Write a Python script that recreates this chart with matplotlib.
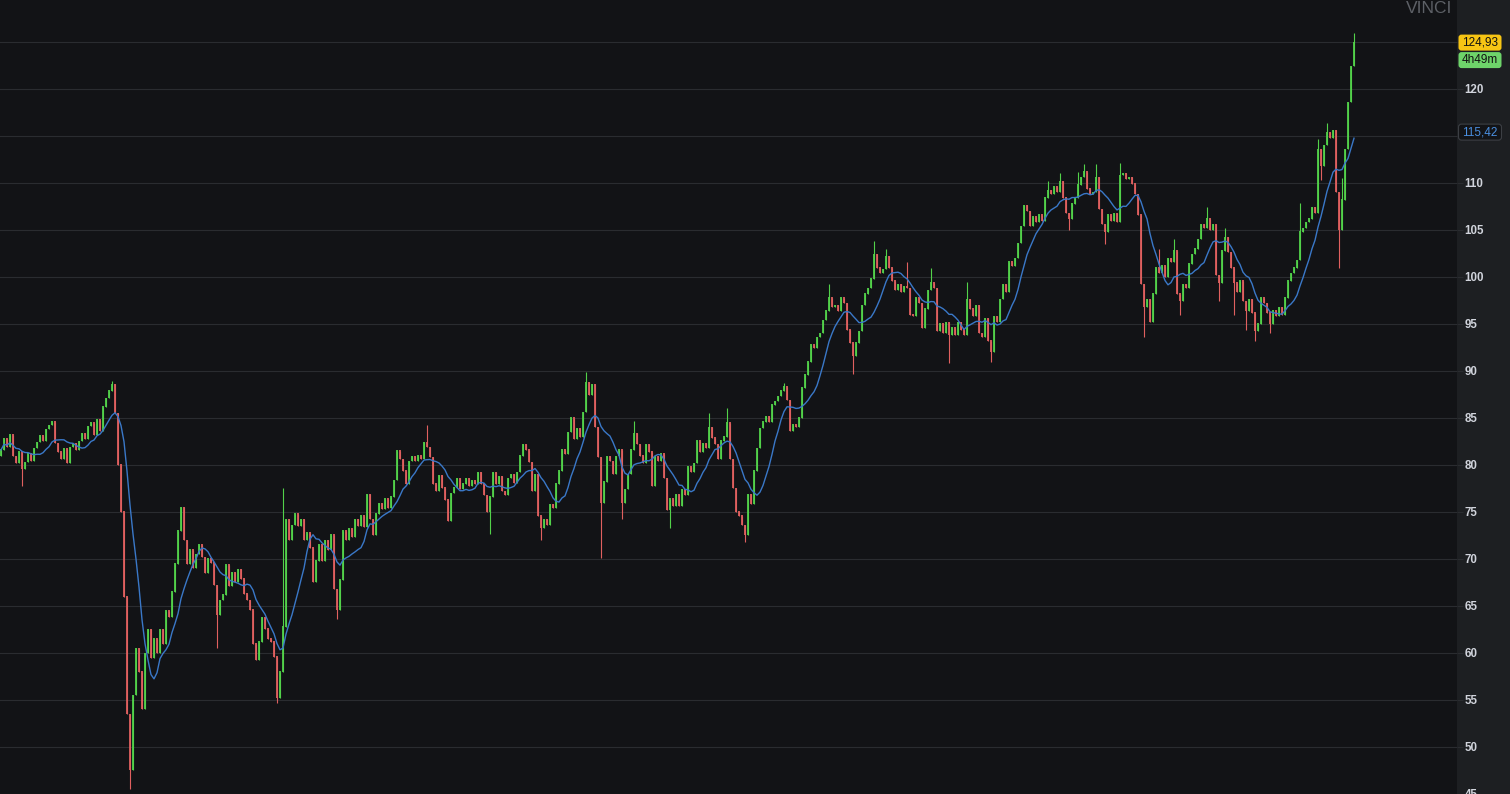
import numpy as np
import pandas as pd
import matplotlib
matplotlib.use("Agg")
import matplotlib.pyplot as plt
from matplotlib.patches import FancyBboxPatch
from matplotlib.transforms import IdentityTransform

# ---------------- data ----------------
title = "VINCI"
first_open = 81.0
closes = [
    81.6, 82.8, 81.9, 83.2, 80.9, 80.2, 81.4, 79.6, 80.3, 81.2,
    80.4, 81.8, 82.4, 83.1, 82.6, 83.8, 84.2, 84.6, 82.3, 81.4,
    80.6, 81.7, 80.2, 81.9, 82.3, 81.6, 82.5, 83.4, 82.8, 84.1,
    84.5, 83.2, 84.8, 83.6, 86.2, 87.1, 87.9, 88.6, 85.5, 80.0,
    75.0, 66.0, 53.5, 47.5, 55.5, 60.5, 58.0, 54.0, 60.0, 62.5,
    59.5, 61.5, 60.0, 62.5, 61.0, 64.5, 63.8, 66.5, 69.5, 73.0,
    75.5, 72.0, 69.5, 71.0, 69.0, 70.5, 71.5, 70.2, 68.5, 70.0,
    69.6, 67.2, 64.0, 65.6, 66.2, 69.4, 67.1, 68.6, 67.6, 68.9,
    67.9, 66.3, 65.6, 64.6, 61.0, 59.3, 61.2, 63.8, 62.6, 61.5,
    61.2, 59.6, 55.2, 58.0, 62.8, 74.2, 72.0, 73.6, 74.8, 73.5,
    74.2, 72.0, 72.8, 71.2, 67.5, 69.8, 71.5, 69.8, 72.0, 71.0,
    72.6, 66.8, 64.6, 67.8, 73.0, 72.0, 73.2, 72.3, 74.2, 73.5,
    74.6, 73.4, 76.9, 74.2, 72.5, 74.8, 75.9, 75.3, 76.4, 75.4,
    76.6, 78.4, 81.5, 80.6, 79.4, 78.0, 80.4, 80.9, 80.4, 81.0,
    80.6, 82.4, 81.9, 80.8, 78.0, 77.2, 78.9, 77.6, 76.3, 74.0,
    77.0, 77.6, 78.6, 77.4, 78.0, 78.6, 77.8, 78.3, 78.0, 79.2,
    78.0, 76.8, 75.0, 76.6, 79.2, 78.0, 78.8, 77.2, 76.8, 78.6,
    79.0, 78.1, 79.2, 81.0, 82.2, 81.6, 80.3, 77.2, 79.0, 74.6,
    73.3, 74.2, 73.6, 75.8, 75.4, 78.0, 79.4, 81.6, 81.2, 83.5,
    85.0, 82.8, 83.9, 83.0, 85.6, 88.8, 87.4, 88.6, 84.0, 80.8,
    76.0, 78.2, 80.9, 80.4, 79.0, 80.9, 81.6, 76.0, 77.4, 79.0,
    81.6, 83.4, 82.2, 81.0, 80.2, 82.2, 81.4, 77.8, 80.9, 80.4,
    81.2, 78.6, 75.2, 76.4, 75.6, 76.9, 75.6, 77.4, 76.8, 79.8,
    79.2, 80.2, 82.6, 81.4, 82.3, 81.8, 84.0, 82.9, 82.2, 80.6,
    82.6, 83.0, 84.5, 80.6, 77.5, 75.0, 74.6, 73.6, 72.6, 76.9,
    75.8, 79.4, 81.8, 83.9, 84.6, 85.2, 84.6, 86.4, 86.8, 87.3,
    87.9, 88.3, 86.9, 83.6, 84.3, 84.0, 85.0, 88.2, 89.6, 91.0,
    92.8, 92.4, 93.6, 94.0, 95.4, 96.4, 97.8, 96.8, 97.0, 96.4,
    97.8, 97.2, 94.4, 93.0, 91.6, 93.0, 94.2, 97.0, 98.2, 98.8,
    99.8, 102.4, 101.0, 100.4, 100.8, 102.2, 101.0, 99.6, 98.6, 99.2,
    98.4, 99.0, 98.8, 96.0, 95.8, 97.8, 97.2, 94.6, 96.6, 98.6,
    99.4, 98.8, 94.2, 95.0, 94.0, 95.2, 93.8, 94.6, 93.8, 95.2,
    94.4, 93.8, 97.6, 96.6, 95.8, 97.0, 94.0, 93.6, 95.6, 93.2,
    92.0, 95.8, 95.2, 97.6, 99.2, 98.4, 101.6, 101.2, 102.0, 103.6,
    105.4, 107.6, 107.0, 105.4, 106.4, 105.8, 106.6, 106.0, 108.4, 109.2,
    108.8, 109.6, 109.0, 110.2, 108.4, 106.8, 106.2, 107.8, 108.4, 109.8,
    110.6, 111.2, 109.4, 108.8, 109.0, 110.6, 107.2, 105.6, 104.8, 106.6,
    106.0, 106.8, 105.8, 110.8, 111.0, 110.4, 110.6, 109.9, 108.8, 106.6,
    99.2, 96.8, 97.6, 95.2, 98.2, 101.0, 100.4, 101.2, 100.0, 102.0,
    101.6, 102.8, 98.2, 97.4, 99.2, 98.8, 101.4, 102.4, 103.0, 104.0,
    105.6, 105.2, 106.2, 105.0, 105.6, 100.2, 99.4, 102.8, 104.2, 102.6,
    101.0, 99.4, 98.4, 99.6, 97.4, 96.4, 97.6, 96.2, 94.2, 95.0,
    97.8, 97.2, 96.2, 95.0, 96.4, 95.8, 96.8, 96.0, 97.8, 99.6,
    100.4, 101.0, 101.8, 104.8, 105.2, 105.8, 106.2, 107.4, 106.8, 113.6,
    111.8, 114.0, 115.4, 114.8, 115.6, 109.0, 105.0, 108.2, 113.6, 118.6,
    122.4, 124.93,
]
high_spikes = {37: 88.9, 94: 77.5, 142: 84.2, 195: 89.9, 211: 84.7, 236: 85.5,
               242: 86.1, 261: 88.7, 276: 99.2, 291: 103.8, 295: 103.0, 302: 101.6,
               310: 100.9, 322: 99.5, 349: 110.2, 353: 111.0, 359: 111.2, 361: 112.0,
               365: 112.0, 373: 112.1, 386: 103.0, 391: 104.0, 402: 107.4, 408: 105.2,
               433: 107.9, 439: 114.7, 442: 116.4, 446: 109.0, 447: 110.5, 451: 125.9}
low_spikes = {7: 77.8, 43: 45.5, 72: 60.5, 92: 54.7, 112: 63.6, 163: 72.7, 180: 72.0,
              200: 70.1, 207: 74.2, 223: 73.3, 248: 71.8, 284: 89.7, 316: 90.8,
              330: 90.9, 356: 105.0, 368: 103.5, 381: 93.6, 393: 95.9, 406: 97.4,
              411: 95.9, 415: 94.4, 418: 93.2, 423: 94.0, 440: 110.3, 446: 101.0}
ma_window = 10
last_price_label = "124,93"
countdown_label = "4h49m"
ma_last_value = 115.42
ma_label = "115,42"
y_ticks = list(range(45, 130, 5))
hidden_tick_labels = [115, 125]   # covered by the price tags in the reference

# ---------------- styling ----------------
W, H = 1510, 794
BG = "#121316"
PANEL = "#1d1f22"
GRID = "#2a2c30"
UP = "#52d24a"
DOWN = "#e0605f"
MA_C = "#3a78c8"
TXT = "#d1d4dc"

plt.rcParams["font.family"] = ["Liberation Sans", "DejaVu Sans"]

fig = plt.figure(figsize=(W / 100, H / 100), dpi=100, facecolor=BG)
panel_x = 1457
panel = fig.add_axes([panel_x / W, 0, 1 - panel_x / W, 1])
panel.set_facecolor(PANEL)
panel.set_xticks([]); panel.set_yticks([])
for s in panel.spines.values():
    s.set_visible(False)

ax = fig.add_axes([0, 0, panel_x / W, 1])
ax.set_facecolor(BG)
for s in ax.spines.values():
    s.set_visible(False)

c = np.array(closes, dtype=float)
n = len(c)
x = np.arange(n)
o = np.concatenate([[first_open], c[:-1]])
hi = np.maximum(o, c)
lo = np.minimum(o, c)
for k, v in high_spikes.items():
    hi[k] = max(hi[k], v)
for k, v in low_spikes.items():
    lo[k] = min(lo[k], v)
up = c >= o
bt = np.maximum(o, c)
bb = np.minimum(o, c)

for mask, col in ((up, UP), (~up, DOWN)):
    ax.vlines(x[mask], lo[mask], hi[mask], colors=col, lw=0.8, zorder=3)
    ax.vlines(x[mask], bb[mask], bt[mask] + 0.05, colors=col, lw=1.3, zorder=3)

ma = pd.Series(c).rolling(ma_window, min_periods=1).mean()
ax.plot(x, ma, color=MA_C, lw=1.0, zorder=4)

ppu = 9.414
ymax = 120 + 89 / ppu
ymin = 120 - (H - 89) / ppu
ax.set_ylim(ymin, ymax)
ax.set_xlim(-1 / 3, (panel_x - 1) / 3)
ax.set_xticks([])
ax.set_yticks(y_ticks)
ax.set_yticklabels(["" if t in hidden_tick_labels else str(t) for t in y_ticks])
ax.yaxis.tick_right()
ax.tick_params(axis="y", length=4, width=0.72, color=GRID, pad=1.5,
               labelsize=8.3, labelcolor=TXT)
for lbl in ax.get_yticklabels():
    lbl.set_fontweight("bold")
ax.grid(axis="y", color=GRID, lw=0.8, zorder=0)
ax.set_axisbelow(True)

fig.text(1452 / W, 1 - 1 / H, title, ha="right", va="top", color="#5d6066",
         fontsize=12.5)

def price_to_px(p):
    return 89 + (120 - p) * ppu

def tag(yc, text, fc, tc, ec="none"):
    h = 16
    box = FancyBboxPatch((1458.5, H - yc - h / 2), 43, h,
                         boxstyle="round,pad=0,rounding_size=3",
                         transform=IdentityTransform(), fc=fc, ec=ec, lw=0.8,
                         zorder=10)
    fig.patches.append(box)
    fig.text(1480 / W, 1 - yc / H, text, ha="center", va="center",
             color=tc, fontsize=8.5, zorder=11)

tag(price_to_px(closes[-1]), last_price_label, "#f7c514", "#111111")
tag(price_to_px(closes[-1]) + 17.5, countdown_label, "#6ed46a", "#111111")
tag(price_to_px(ma_last_value), ma_label, "#131417", "#4a8fe0", ec="#3c3f44")

fig.savefig("out.png", dpi=100, facecolor=BG)
